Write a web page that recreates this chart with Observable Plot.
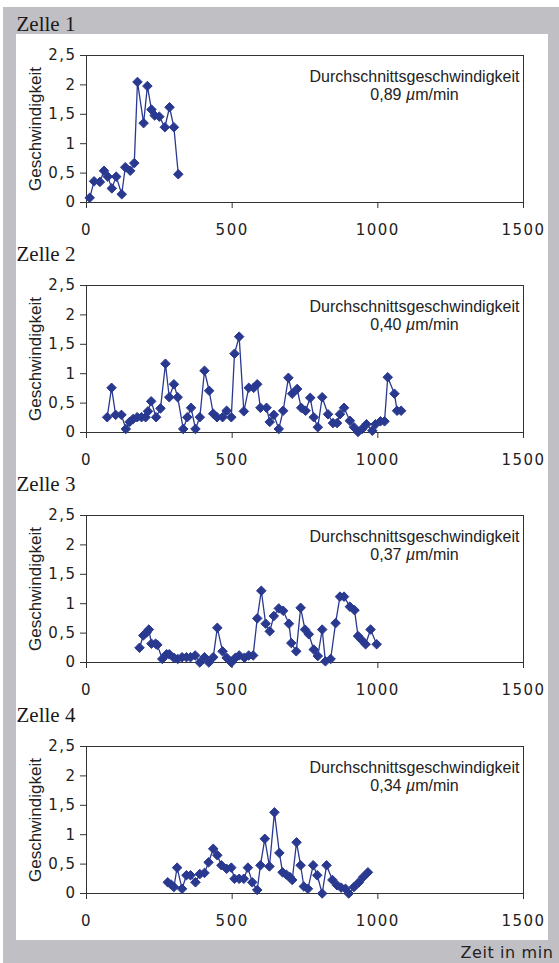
<!DOCTYPE html>
<html><head><meta charset="utf-8">
<script src="https://cdn.jsdelivr.net/npm/d3@7"></script>
<script src="https://cdn.jsdelivr.net/npm/@observablehq/plot@0.6"></script>
<style>
html,body{margin:0;padding:0;background:#fff;}
#page{position:relative;width:559px;height:963px;overflow:hidden;}
#grey{position:absolute;left:3px;top:7px;width:556px;height:956px;background:#c0c0c4;}
#white{position:absolute;left:16px;top:34px;width:532px;height:906px;background:#fff;}
#page svg{position:absolute;left:0;}
</style></head><body><div id="page"><div id="grey"></div><div id="white"></div></div>
<script>
const zellen = ["Zelle 1", "Zelle 2", "Zelle 3", "Zelle 4"];
const mittelwerte = ["0,89", "0,40", "0,37", "0,34"];
const xTicks = [0, 500, 1000, 1500];
const yTicks = [0, 0.5, 1, 1.5, 2, 2.5];
const xTitle = "Zeit in min";
const yTitle = "Geschwindigkeit";
const noteTitle = "Durchschnittsgeschwindigkeit";

const zeit1 = [11, 26, 46, 60, 73, 87, 102, 121, 133, 150, 164, 175, 196, 209, 223, 234, 250, 269, 285, 300, 315];
const geschw1 = [0.08, 0.36, 0.35, 0.54, 0.44, 0.24, 0.44, 0.14, 0.6, 0.54, 0.67, 2.05, 1.35, 1.98, 1.58, 1.48, 1.46, 1.28, 1.62, 1.28, 0.48];

const zeit2 = [71, 86, 100, 120, 135, 148, 160, 174, 189, 203, 211, 222, 239, 254, 271, 284, 300, 313, 332, 346, 359, 374, 389, 405, 421, 435, 448, 467, 481, 497, 508, 524, 540, 557, 574, 586, 597, 618, 629, 643, 660, 675, 693, 706, 723, 737, 752, 768, 780, 794, 809, 829, 846, 860, 870, 884, 904, 918, 932, 946, 961, 981, 992, 1009, 1023, 1034, 1057, 1066, 1080];
const geschw2 = [0.26, 0.76, 0.3, 0.3, 0.06, 0.18, 0.23, 0.26, 0.26, 0.26, 0.36, 0.53, 0.26, 0.41, 1.17, 0.6, 0.82, 0.6, 0.06, 0.26, 0.42, 0.06, 0.26, 1.05, 0.71, 0.32, 0.26, 0.26, 0.37, 0.26, 1.34, 1.63, 0.36, 0.76, 0.76, 0.82, 0.42, 0.42, 0.18, 0.3, 0.06, 0.37, 0.93, 0.66, 0.74, 0.42, 0.37, 0.59, 0.26, 0.09, 0.6, 0.31, 0.16, 0.16, 0.31, 0.42, 0.2, 0.09, 0.01, 0.06, 0.14, 0.03, 0.14, 0.19, 0.19, 0.94, 0.66, 0.37, 0.37];

const zeit3 = [182, 195, 206, 214, 223, 237, 243, 260, 275, 284, 300, 313, 328, 343, 357, 373, 389, 405, 420, 435, 449, 467, 481, 497, 511, 524, 542, 557, 572, 586, 600, 615, 629, 643, 660, 675, 695, 703, 720, 735, 750, 763, 780, 794, 809, 820, 838, 855, 870, 884, 904, 920, 932, 943, 958, 975, 996];
const geschw3 = [0.25, 0.46, 0.51, 0.56, 0.32, 0.32, 0.3, 0.06, 0.14, 0.14, 0.08, 0.06, 0.09, 0.09, 0.09, 0.12, 0.0, 0.09, 0.0, 0.09, 0.59, 0.19, 0.08, 0.0, 0.08, 0.12, 0.08, 0.12, 0.12, 0.75, 1.22, 0.66, 0.53, 0.79, 0.92, 0.88, 0.66, 0.33, 0.19, 0.93, 0.56, 0.48, 0.22, 0.11, 0.56, 0.02, 0.06, 0.67, 1.12, 1.12, 0.95, 0.89, 0.45, 0.39, 0.31, 0.56, 0.31];

const zeit4 = [279, 291, 300, 311, 328, 343, 357, 374, 389, 405, 419, 435, 449, 463, 481, 497, 508, 524, 540, 554, 569, 586, 597, 612, 628, 645, 662, 673, 686, 698, 706, 721, 735, 746, 760, 778, 792, 809, 824, 844, 860, 874, 889, 900, 918, 935, 950, 966];
const geschw4 = [0.19, 0.15, 0.11, 0.44, 0.08, 0.31, 0.31, 0.19, 0.33, 0.35, 0.53, 0.76, 0.65, 0.48, 0.42, 0.44, 0.25, 0.25, 0.25, 0.44, 0.19, 0.06, 0.48, 0.93, 0.46, 1.38, 0.69, 0.36, 0.32, 0.28, 0.23, 0.87, 0.48, 0.12, 0.08, 0.48, 0.31, 0.0, 0.48, 0.23, 0.14, 0.1, 0.08, 0.0, 0.11, 0.19, 0.28, 0.36];

const serien = [[zeit1, geschw1], [zeit2, geschw2], [zeit3, geschw3], [zeit4, geschw4]];

const navy = "#2a3990";
const ink = "#222";
const frameTops = [55, 285, 515, 746];
const innerH = 147;
const fmtY = d => String(d).replace(".", ",");

const page = document.getElementById("page");

serien.forEach(([zeit, geschw], i) => {
  const last = i === serien.length - 1;
  const data = zeit.map((t, j) => ({t, v: geschw[j]}));
  const mt = 40, mb = last ? 75 : 40;
  const svg = Plot.plot({
    width: 559,
    height: mt + innerH + mb,
    marginLeft: 86, marginRight: 36, marginTop: mt, marginBottom: mb,
    style: {background: "transparent", overflow: "visible"},
    x: {domain: [0, 1500]},
    y: {domain: [0, 2.5]},
    marks: [
      Plot.frame({stroke: "#333", strokeWidth: 1}),
      Plot.axisX({ticks: xTicks, tickSize: 6, tickPadding: 16, tickFormat: d => String(d), label: null,
        fontSize: 15, fontFamily: "DejaVu Sans", fill: ink, stroke: "#333"}),
      Plot.axisY({ticks: yTicks, tickSize: 6, tickPadding: 4, tickFormat: fmtY, label: null,
        fontSize: 15, fontFamily: "DejaVu Sans", fill: ink, stroke: "#333"}),
      Plot.line(data, {x: "t", y: "v", stroke: navy, strokeWidth: 1.3}),
      Plot.dot(data, {x: "t", y: "v", symbol: "diamond2", r: 4.3, fill: navy, stroke: navy, strokeWidth: 1}),
      Plot.text([zellen[i]], {text: d => d, frameAnchor: "top-left", dx: -70, dy: -25, lineAnchor: "bottom",
        textAnchor: "start", fontFamily: "Liberation Serif", fontSize: 21, fill: "#1a1a1a"}),
      Plot.text([yTitle], {text: d => d, frameAnchor: "left", rotate: -90, dx: -51, lineAnchor: "middle",
        textAnchor: "middle", fontFamily: "Liberation Sans", fontSize: 17, fill: ink}),
      Plot.text([`${noteTitle}\n${mittelwerte[i]} µm/min`], {text: d => d, frameAnchor: "top-right", dx: -109, dy: 13,
        lineAnchor: "top", textAnchor: "middle", lineHeight: 1.15, fontFamily: "Liberation Sans", fontSize: 16, fill: ink}),
      last ? Plot.text([xTitle], {text: d => d, frameAnchor: "bottom-right", dx: 30, dy: 64, lineAnchor: "bottom",
        textAnchor: "end", fontFamily: "DejaVu Sans", fontSize: 16, fill: ink}) : null
    ]
  });
  svg.style.top = (frameTops[i] - mt) + "px";
  svg.querySelectorAll('g[aria-label="x-axis tick label"], g[aria-label="y-axis tick label"]')
    .forEach(g => g.style.letterSpacing = "1.5px");
  svg.querySelectorAll("text").forEach(t => { if (t.textContent === xTitle) t.style.letterSpacing = "0.6px"; });
  svg.querySelectorAll("tspan, text").forEach(el => {
    if (el.childNodes.length === 1 && el.firstChild.nodeType === 3 && el.textContent.includes("µ")) {
      const [a, b] = el.textContent.split("µ");
      el.textContent = "";
      el.append(document.createTextNode(a));
      const it = document.createElementNS("http://www.w3.org/2000/svg", "tspan");
      it.setAttribute("font-style", "italic");
      it.textContent = "µ";
      el.append(it);
      el.append(document.createTextNode(b));
    }
  });
  page.appendChild(svg);
});
</script></body></html>
